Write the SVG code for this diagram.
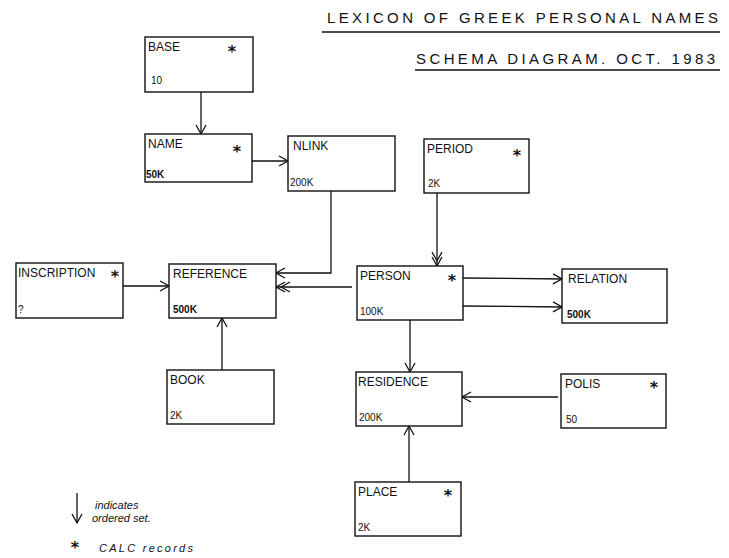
<svg xmlns="http://www.w3.org/2000/svg" width="729" height="558" viewBox="0 0 729 558">
<style>
.box{fill:#fff;stroke:#111;stroke-width:1.4}
.lbl{font-family:"Liberation Sans",sans-serif;font-size:12px;fill:#111}
.num{font-family:"Liberation Sans",sans-serif;font-size:10px;fill:#111}
.star{font-family:"DejaVu Sans",sans-serif;font-size:16px;font-weight:bold;fill:#111;text-anchor:middle}
.title{font-family:"Liberation Sans",sans-serif;font-size:15px;fill:#111}
.note{font-family:"Liberation Sans",sans-serif;font-size:11px;font-style:italic;fill:#111}
.con{fill:none;stroke:#111;stroke-width:1.3}
</style>
<defs>
<marker id="arr" viewBox="0 0 10 10" refX="10" refY="5" markerWidth="10" markerHeight="10" markerUnits="userSpaceOnUse" orient="auto" overflow="visible">
<path d="M1,0 L10,5 L1,10" fill="none" stroke="#111" stroke-width="1.3"/>
</marker>
<marker id="arr2" viewBox="0 0 10 10" refX="10" refY="5" markerWidth="10" markerHeight="10" markerUnits="userSpaceOnUse" orient="auto" overflow="visible">
<path d="M1,0 L10,5 L1,10 M-4,0 L5,5 L-4,10" fill="none" stroke="#111" stroke-width="1.3"/>
</marker>
</defs>
<rect width="729" height="558" fill="#fff"/>

<g id="title">
<text class="title" x="327" y="23" textLength="391" lengthAdjust="spacing">LEXICON OF GREEK PERSONAL NAMES</text>
<line x1="322" y1="32" x2="720" y2="32" class="con"/>
<text class="title" x="416" y="64" textLength="299" lengthAdjust="spacing">SCHEMA DIAGRAM.  OCT. 1983</text>
<line x1="415" y1="70" x2="720" y2="70" class="con"/>
</g>

<g id="connectors">
<line class="con" x1="201" y1="92" x2="201" y2="134" marker-end="url(#arr)"/>
<line class="con" x1="252" y1="161" x2="288" y2="161" marker-end="url(#arr)"/>
<polyline class="con" points="331,191 331,273 276,273" marker-end="url(#arr)"/>
<line class="con" x1="437" y1="193" x2="437" y2="266" marker-end="url(#arr2)"/>
<line class="con" x1="352" y1="287" x2="276" y2="287" marker-end="url(#arr2)"/>
<line class="con" x1="123" y1="286" x2="169" y2="286" marker-end="url(#arr)"/>
<line class="con" x1="222" y1="370" x2="222" y2="318" marker-end="url(#arr)"/>
<line class="con" x1="463" y1="278" x2="562" y2="279" marker-end="url(#arr)"/>
<line class="con" x1="463" y1="306" x2="562" y2="307" marker-end="url(#arr)"/>
<line class="con" x1="410" y1="320" x2="410" y2="372" marker-end="url(#arr)"/>
<line class="con" x1="558" y1="397" x2="462" y2="397" marker-end="url(#arr)"/>
<line class="con" x1="409" y1="482" x2="409" y2="426" marker-end="url(#arr)"/>
</g>

<g id="BASE"><rect class="box" x="145" y="37" width="108" height="55"/><text class="lbl" x="148" y="51">BASE</text><text class="star" x="232" y="57">*</text><text class="num" x="151" y="84">10</text></g>
<g id="NAME"><rect class="box" x="145" y="134" width="107" height="48"/><text class="lbl" x="148" y="148">NAME</text><text class="star" x="237" y="157">*</text><text class="num" x="146" y="178" font-weight="bold">50K</text></g>
<g id="NLINK"><rect class="box" x="288" y="136" width="107" height="55"/><text class="lbl" x="293" y="150">NLINK</text><text class="num" x="290" y="186">200K</text></g>
<g id="PERIOD"><rect class="box" x="424" y="139" width="105" height="54"/><text class="lbl" x="427" y="153">PERIOD</text><text class="star" x="517" y="161">*</text><text class="num" x="428" y="187">2K</text></g>
<g id="INSCRIPTION"><rect class="box" x="16" y="263" width="107" height="55"/><text class="lbl" x="18" y="277">INSCRIPTION</text><text class="star" x="115" y="282">*</text><text class="num" x="18" y="313">?</text></g>
<g id="REFERENCE"><rect class="box" x="169" y="264" width="107" height="54"/><text class="lbl" x="173" y="278">REFERENCE</text><text class="num" x="173" y="313" font-weight="bold">500K</text></g>
<g id="PERSON"><rect class="box" x="357" y="266" width="106" height="54"/><text class="lbl" x="360" y="280">PERSON</text><text class="star" x="452" y="286">*</text><text class="num" x="360" y="315" font-size="8">100K</text></g>
<g id="RELATION"><rect class="box" x="562" y="269" width="105" height="54"/><text class="lbl" x="568" y="283">RELATION</text><text class="num" x="567" y="318" font-size="8" font-weight="bold">500K</text></g>
<g id="BOOK"><rect class="box" x="167" y="370" width="107" height="54"/><text class="lbl" x="170" y="384">BOOK</text><text class="num" x="170" y="419">2K</text></g>
<g id="RESIDENCE"><rect class="box" x="356" y="372" width="106" height="54"/><text class="lbl" x="358" y="386">RESIDENCE</text><text class="num" x="359" y="421" font-size="9">200K</text></g>
<g id="POLIS"><rect class="box" x="561" y="374" width="105" height="54"/><text class="lbl" x="565" y="388">POLIS</text><text class="star" x="654" y="393">*</text><text class="num" x="566" y="423">50</text></g>
<g id="PLACE"><rect class="box" x="355" y="482" width="106" height="54"/><text class="lbl" x="358" y="496">PLACE</text><text class="star" x="448" y="501">*</text><text class="num" x="358" y="531">2K</text></g>

<g id="legend">
<line class="con" x1="77" y1="493" x2="77" y2="523" marker-end="url(#arr)" stroke-width="1.6"/>
<text class="note" x="95" y="509">indicates</text>
<text class="note" x="92" y="522">ordered set.</text>
<text class="star" x="75" y="553" font-size="14">*</text>
<text class="note" x="99" y="552" textLength="94" lengthAdjust="spacing">CALC records</text>
</g>
</svg>
